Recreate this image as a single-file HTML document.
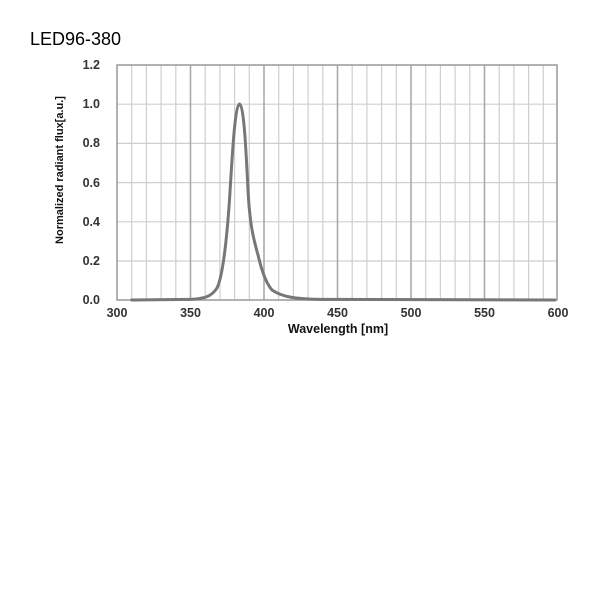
<!DOCTYPE html>
<html><head><meta charset="utf-8"><style>
body{margin:0;background:#fff;width:600px;height:600px;overflow:hidden}
</style></head><body>
<svg width="600" height="600" xmlns="http://www.w3.org/2000/svg">
<text x="30" y="45" font-family="Liberation Sans, sans-serif" font-size="18" fill="#000">LED96-380</text>
<g stroke="#cfcfcf" stroke-width="1.2">
<line x1="131.7" y1="65" x2="131.7" y2="300"/><line x1="146.4" y1="65" x2="146.4" y2="300"/><line x1="161.1" y1="65" x2="161.1" y2="300"/><line x1="175.8" y1="65" x2="175.8" y2="300"/><line x1="190.5" y1="65" x2="190.5" y2="300"/>
<line x1="205.2" y1="65" x2="205.2" y2="300"/><line x1="219.9" y1="65" x2="219.9" y2="300"/><line x1="234.6" y1="65" x2="234.6" y2="300"/><line x1="249.3" y1="65" x2="249.3" y2="300"/><line x1="264" y1="65" x2="264" y2="300"/>
<line x1="278.7" y1="65" x2="278.7" y2="300"/><line x1="293.4" y1="65" x2="293.4" y2="300"/><line x1="308.1" y1="65" x2="308.1" y2="300"/><line x1="322.8" y1="65" x2="322.8" y2="300"/><line x1="337.5" y1="65" x2="337.5" y2="300"/>
<line x1="352.2" y1="65" x2="352.2" y2="300"/><line x1="366.9" y1="65" x2="366.9" y2="300"/><line x1="381.6" y1="65" x2="381.6" y2="300"/><line x1="396.3" y1="65" x2="396.3" y2="300"/><line x1="411" y1="65" x2="411" y2="300"/>
<line x1="425.7" y1="65" x2="425.7" y2="300"/><line x1="440.4" y1="65" x2="440.4" y2="300"/><line x1="455.1" y1="65" x2="455.1" y2="300"/><line x1="469.8" y1="65" x2="469.8" y2="300"/><line x1="484.5" y1="65" x2="484.5" y2="300"/>
<line x1="499.2" y1="65" x2="499.2" y2="300"/><line x1="513.9" y1="65" x2="513.9" y2="300"/><line x1="528.6" y1="65" x2="528.6" y2="300"/><line x1="543.3" y1="65" x2="543.3" y2="300"/>
<line x1="117" y1="104.2" x2="557" y2="104.2"/><line x1="117" y1="143.4" x2="557" y2="143.4"/><line x1="117" y1="182.6" x2="557" y2="182.6"/><line x1="117" y1="221.8" x2="557" y2="221.8"/><line x1="117" y1="261" x2="557" y2="261"/>
</g>
<g stroke="#a8a8a8" stroke-width="1.5">
<line x1="190.5" y1="65" x2="190.5" y2="300"/><line x1="264" y1="65" x2="264" y2="300"/><line x1="337.5" y1="65" x2="337.5" y2="300"/><line x1="411" y1="65" x2="411" y2="300"/><line x1="484.5" y1="65" x2="484.5" y2="300"/>
</g>
<rect x="117" y="65" width="440" height="235" fill="none" stroke="#999" stroke-width="1.5"/>
<path fill="none" stroke="#777" stroke-width="3" stroke-linejoin="round" stroke-linecap="round"
d="M131.7,300 L190,299.4 C205,299 212,296 217,288 C222,278 226,250 229.5,200 C232.5,150 235,106 239.5,104 C244,106 246,150 248,190 C250,228 254,240 258,255 C261,268 265,282 272,290 C282,297 295,298.8 320,299.4 L555,300"/>
<g font-family="Liberation Sans, sans-serif" font-size="12.5" font-weight="bold" fill="#333" text-anchor="end">
<text x="100" y="69">1.2</text><text x="100" y="108">1.0</text><text x="100" y="147">0.8</text><text x="100" y="187">0.6</text><text x="100" y="226">0.4</text><text x="100" y="265">0.2</text><text x="100" y="304">0.0</text>
</g>
<g font-family="Liberation Sans, sans-serif" font-size="12.5" font-weight="bold" fill="#333" text-anchor="middle">
<text x="117" y="317">300</text><text x="190.5" y="317">350</text><text x="264" y="317">400</text><text x="337.5" y="317">450</text><text x="411" y="317">500</text><text x="484.5" y="317">550</text><text x="558" y="317">600</text>
<text x="338" y="333" fill="#111">Wavelength [nm]</text>
<text transform="translate(63,170) rotate(-90)" font-size="11" fill="#111">Normalized radiant flux[a.u.]</text>
</g>
</svg>
</body></html>
